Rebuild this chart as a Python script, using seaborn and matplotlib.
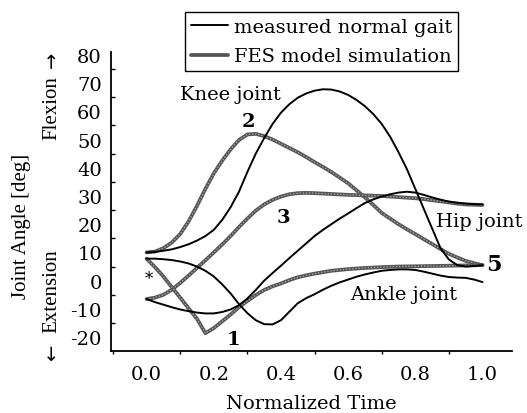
import matplotlib
matplotlib.use("Agg")
import matplotlib.pyplot as plt
import seaborn as sns
import pandas as pd
from matplotlib.lines import Line2D
from matplotlib.ticker import MultipleLocator

# ---------------- data ----------------
time = [0.000, 0.025, 0.050, 0.075, 0.100, 0.125, 0.150, 0.175, 0.200, 0.225,
        0.250, 0.275, 0.300, 0.325, 0.350, 0.375, 0.400, 0.425, 0.450, 0.475,
        0.500, 0.525, 0.550, 0.575, 0.600, 0.625, 0.650, 0.675, 0.700, 0.725,
        0.750, 0.775, 0.800, 0.825, 0.850, 0.875, 0.900, 0.925, 0.950, 0.975, 1.000]

knee_measured = [10, 10.2, 10.6, 11.1, 11.9, 12.9, 14.2, 15.8, 18.0, 21.5,
                 26.0, 31.5, 38.5, 45.0, 50.5, 55.5, 59.5, 62.5, 64.8, 66.3,
                 67.3, 67.8, 67.7, 67.0, 65.8, 64.0, 61.8, 59.0, 55.5, 51.0,
                 45.5, 39.5, 32.5, 25.5, 18.5, 11.5, 7.5, 5.5, 5.0, 5.2, 5.5]
knee_fes = [10, 10.3, 11.5, 13.5, 16.5, 21.0, 26.5, 32.5, 38.0, 42.5,
            46.5, 49.8, 51.8, 52.0, 51.2, 50.0, 48.5, 47.0, 45.5, 43.8,
            42.0, 40.3, 38.5, 36.5, 34.5, 32.0, 29.5, 26.8, 24.0, 22.0,
            20.0, 18.2, 16.5, 14.7, 13.0, 11.2, 9.5, 8.2, 7.0, 6.2, 5.5]

hip_measured = [-6.5, -7.6, -8.5, -9.4, -10.2, -10.8, -11.3, -11.6, -11.6, -11.1,
                -10.2, -8.7, -6.3, -3.3, 0.0, 2.7, 5.3, 8.0, 10.6, 13.2,
                15.8, 18.0, 20.0, 22.0, 23.8, 25.7, 27.5, 28.8, 29.8, 30.6,
                31.2, 31.5, 31.2, 30.4, 29.5, 28.7, 28.0, 27.6, 27.3, 27.1, 27.0]
hip_fes = [-6.5, -6.0, -5.0, -3.2, -0.8, 1.8, 4.5, 7.2, 10.0, 12.8,
           15.8, 19.0, 22.0, 24.8, 27.0, 28.6, 29.8, 30.6, 31.0, 31.1,
           31.0, 30.85, 30.7, 30.55, 30.4, 30.3, 30.2, 30.1, 30.0, 29.8,
           29.6, 29.4, 29.2, 28.9, 28.5, 28.1, 27.7, 27.3, 27.0, 26.9, 26.8]

ankle_measured = [7.8, 7.8, 7.6, 7.3, 6.8, 6.1, 5.0, 3.5, 1.5, -1.3,
                  -4.5, -8.3, -11.5, -14.0, -15.4, -15.5, -14.0, -11.0, -8.0, -6.2,
                  -4.8, -3.2, -1.8, -0.6, 0.4, 1.4, 2.2, 2.9, 3.5, 3.8,
                  4.0, 4.0, 3.8, 3.2, 2.5, 1.8, 1.3, 1.1, 1.0, 0.4, -0.5]
ankle_fes = [7.8, 4.8, 1.5, -2.3, -6.0, -9.8, -13.5, -18.6, -16.8, -14.4,
             -12.0, -9.4, -7.2, -5.1, -3.3, -2.0, -1.0, 0.2, 1.2, 1.9,
             2.5, 3.0, 3.5, 3.8, 4.1, 4.3, 4.5, 4.65, 4.8, 4.9,
             5.0, 5.05, 5.1, 5.15, 5.2, 5.25, 5.3, 5.35, 5.4, 5.45, 5.5]

legend_labels = ["measured normal gait", "FES model simulation"]
x_ticks = [0.0, 0.2, 0.4, 0.6, 0.8, 1.0]
y_ticks = [-20, -10, 0, 10, 20, 30, 40, 50, 60, 70, 80]

# ---------------- style ----------------
sns.set_theme(style="white")
plt.rcParams["font.family"] = ["DejaVu Serif", "DejaVu Sans"]
FS = 14
VERT_FONT = ["Liberation Serif", "DejaVu Sans"]

fig = plt.figure(figsize=(5.27, 4.14), dpi=100)
ax = fig.add_axes([0.2106, 0.1505, 0.7604, 0.7215])

GRAY_DARK = "#555555"
GRAY_LIGHT = "#b0b0b0"

fes_series = [knee_fes, hip_fes, ankle_fes]
meas_series = [knee_measured, hip_measured, ankle_measured]

for ty in fes_series:
    df = pd.DataFrame({"t": time, "a": ty})
    sns.lineplot(data=df, x="t", y="a", ax=ax, color=GRAY_DARK, lw=2.7,
                 sort=False, estimator=None)
    sns.lineplot(data=df, x="t", y="a", ax=ax, color=GRAY_LIGHT, lw=0.9,
                 sort=False, estimator=None, linestyle=(0, (1, 1.5)))

for ty in meas_series:
    df = pd.DataFrame({"t": time, "a": ty})
    sns.lineplot(data=df, x="t", y="a", ax=ax, color="black", lw=1.4,
                 sort=False, estimator=None)

# ---------------- axes ----------------
ax.set_xlim(-0.106, 1.087)
ax.set_ylim(-24.8, 81)
ax.set_xticks(x_ticks)
ax.set_xticklabels([f"{v:.1f}" for v in x_ticks])
ax.set_yticks(y_ticks)
ax.set_yticklabels([str(v) for v in y_ticks])
ax.xaxis.set_minor_locator(MultipleLocator(0.1))
ax.yaxis.set_minor_locator(MultipleLocator(5))

for side in ["top", "right"]:
    ax.spines[side].set_visible(False)
for side in ["left", "bottom"]:
    ax.spines[side].set_color("black")
    ax.spines[side].set_linewidth(1.3)

ax.tick_params(axis="both", which="major", direction="out", length=4, width=1.2,
               color="black", labelsize=FS, labelcolor="black")
ax.tick_params(axis="x", which="major", pad=6)
ax.tick_params(axis="y", which="major", pad=2.5)
ax.tick_params(axis="y", which="minor", direction="in", length=3, width=1.0, color="black", left=True)
ax.tick_params(axis="x", which="minor", direction="out", length=2.5, width=1.0, color="black", bottom=True)
ax.grid(False)

ax.set_xlabel("Normalized Time", fontsize=FS, color="black", labelpad=8)
ax.set_ylabel("")

fig.text(0.040, 0.452, "Joint Angle [deg]", rotation=90, ha="center", va="center",
         fontsize=FS + 1, color="black", family=VERT_FONT)
fig.text(0.099, 0.740, "Flexion", rotation=90, ha="center", va="center",
         fontsize=FS + 1, color="black", family=VERT_FONT)
fig.text(0.099, 0.855, "\u2192", rotation=90, ha="center", va="center",
         fontsize=FS, color="black", family=["DejaVu Sans"])
fig.text(0.099, 0.296, "Extension", rotation=90, ha="center", va="center",
         fontsize=FS + 1, color="black", family=VERT_FONT)
fig.text(0.099, 0.147, "\u2190", rotation=90, ha="center", va="center",
         fontsize=FS, color="black", family=["DejaVu Sans"])

# ---------------- annotations ----------------
ax.text(0.25, 66.2, "Knee joint", ha="center", va="center", fontsize=FS, color="black")
ax.text(0.99, 21.3, "Hip joint", ha="center", va="center", fontsize=FS, color="black")
ax.text(0.766, -4.7, "Ankle joint", ha="center", va="center", fontsize=FS, color="black")
ax.text(0.303, 56.7, "2", ha="center", va="center", fontsize=FS, fontweight="bold", color="black")
ax.text(0.407, 22.5, "3", ha="center", va="center", fontsize=FS, fontweight="bold", color="black")
ax.text(0.258, -20.7, "1", ha="center", va="center", fontsize=FS, fontweight="bold", color="black")
ax.text(1.035, 5.9, "5", ha="center", va="center", fontsize=FS + 2, fontweight="bold", color="black")
ax.text(0.008, 0.6, "*", ha="center", va="center", fontsize=FS - 2, color="black")

# ---------------- legend ----------------
handles = [Line2D([0], [0], color="black", lw=1.4),
           Line2D([0], [0], color=GRAY_DARK, lw=2.7)]
leg = fig.legend(handles, legend_labels, loc="upper left",
                 bbox_to_anchor=(0.351, 0.969), bbox_transform=fig.transFigure,
                 frameon=True, fancybox=False, edgecolor="black", facecolor="white",
                 framealpha=1, borderpad=0.3, handlelength=1.9, handletextpad=0.3,
                 labelspacing=0.6, fontsize=FS, borderaxespad=0)
leg.get_frame().set_linewidth(1.0)
for t in leg.get_texts():
    t.set_color("black")

fig.savefig("out.png", dpi=100)
